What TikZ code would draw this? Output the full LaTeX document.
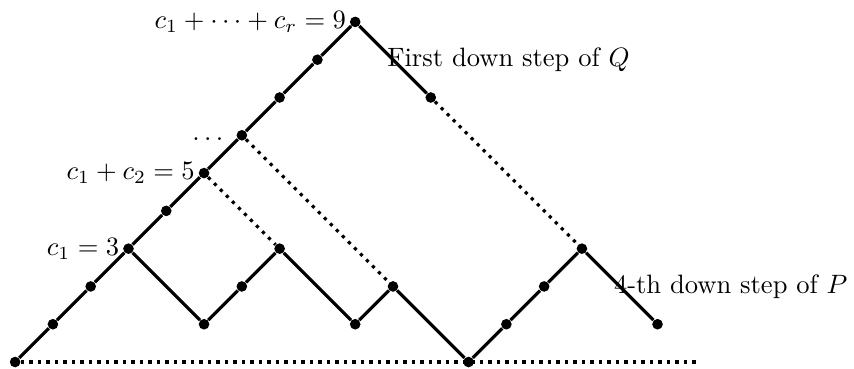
\documentclass[tikz,border=0pt]{standalone}
\usepackage{tikz}
\tikzset{
  latpt/.style={circle,fill=black,inner sep=0pt,minimum size=4pt},
  latstep/.style={line width=1.2pt},
  latguide/.style={line width=1.2pt,dotted},
  latnote/.style={anchor=west,xshift=-2mm}
}

\begin{document}
\begin{tikzpicture}[x=0.5cm,y=0.5cm]
\path[use as bounding box] (-0.4,-0.16) rectangle (22.2,9.58);
\foreach \i in {0,...,9} \node[latpt] (m\i) at (\i,\i) {};
\coordinate (q1) at (10,8);
\node[latpt] (q2) at (11,7) {};
\node[latpt] (pa) at (5,1) {};
\node[latpt] (pb) at (6,2) {};
\node[latpt] (pc) at (7,3) {};
\node[latpt] (pd) at (9,1) {};
\node[latpt] (pe) at (10,2) {};
\node[latpt] (pf) at (12,0) {};
\node[latpt] (pg) at (13,1) {};
\node[latpt] (ph) at (14,2) {};
\node[latpt] (pk) at (15,3) {};
\node[latpt] (pl) at (17,1) {};
\coordinate (p4) at (16,2);
\coordinate (axisend) at (18.1,0);
\draw[latguide] (m0) -- (axisend);
\draw[latstep] (m0) -- (m1) -- (m2) -- (m3) -- (m4) -- (m5) -- (m6) -- (m7) -- (m8) -- (m9) -- (q2);
\draw[latstep] (m3) -- (pa) -- (pb) -- (pc) -- (pd) -- (pe) -- (pf) -- (pg) -- (ph) -- (pk) -- (pl);
\draw[latguide] (q2) -- (pk);
\draw[latguide] (m6) -- (pe);
\draw[latguide] (m5) -- (pc);
\node[anchor=east] (lsum) at (m9) {$c_1+\cdots+c_r=9$};
\node[anchor=east,xshift=-1.2mm,yshift=-0.5mm] (ldots) at (m6) {$\dots$};
\node[anchor=east] (ltwo) at (m5) {$c_1+c_2=5$};
\node[anchor=east] (lone) at (m3) {$c_1=3$};
\node[latnote] (lq) at (q1) {First down step of $Q$};
\node[latnote] (lp) at (p4) {4-th down step of $P$};
\end{tikzpicture}
\end{document}
